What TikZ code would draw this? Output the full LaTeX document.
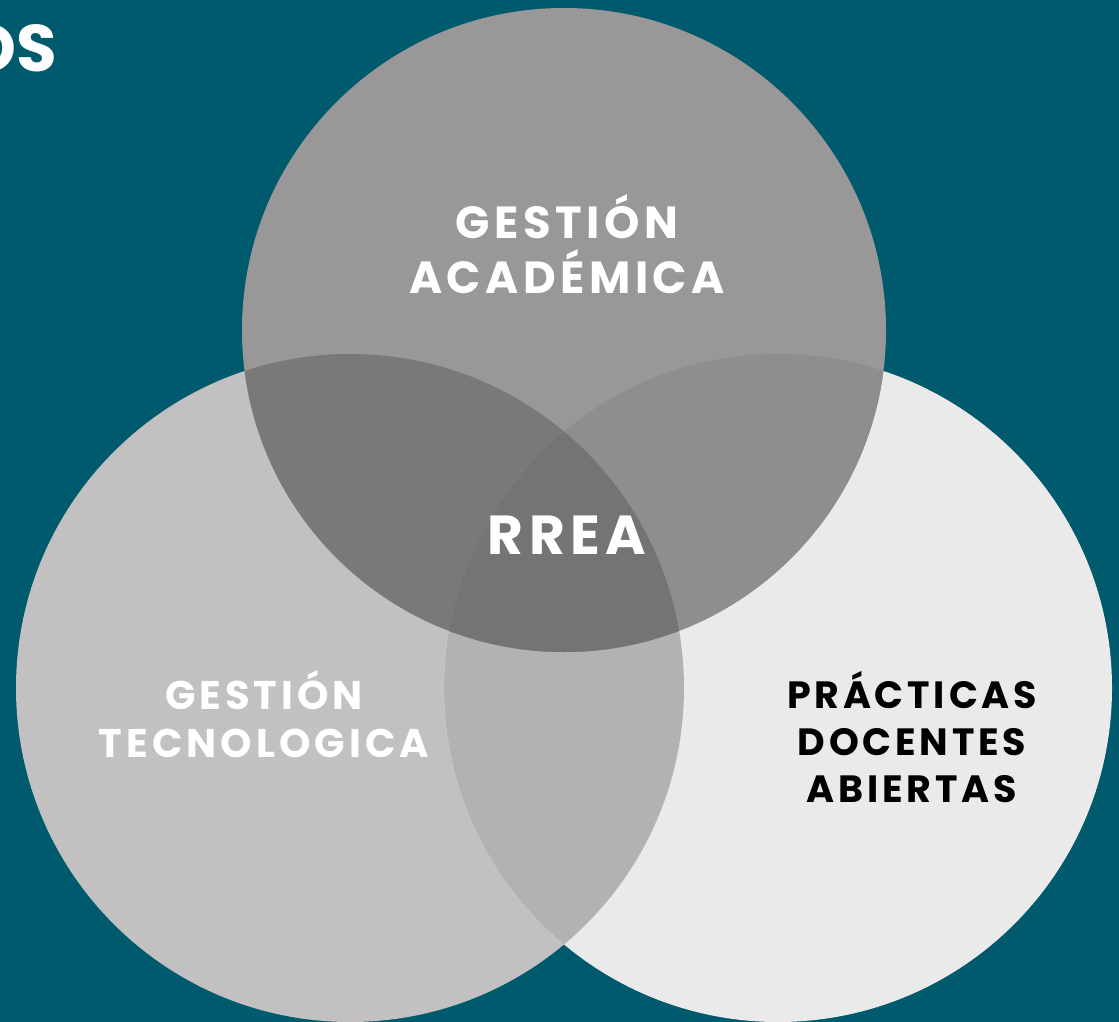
\documentclass[tikz,border=0pt]{standalone}
\usepackage{fontspec}
\setmainfont{Poppins}
\newfontfamily\lblfont[LetterSpace=10]{Poppins}
\begin{document}
\begin{tikzpicture}[x=1pt,y=-1pt,
  lbl/.style={font=\lblfont\bfseries, align=center, inner sep=0pt},
  white lbl/.style={lbl, text=white},
  black lbl/.style={lbl, text=black}]
\definecolor{bg}{HTML}{005A6E}
\definecolor{ctop}{HTML}{999797}
\definecolor{cleft}{HTML}{C2C0C1}
\definecolor{cright}{HTML}{EAEAEA}
\definecolor{ctl}{HTML}{7B7879}
\definecolor{ctr}{HTML}{8F8D8E}
\definecolor{clr}{HTML}{B3B1B2}
\definecolor{call}{HTML}{757373}
\useasboundingbox (0,0) rectangle (1119,1022);
\clip (0,0) rectangle (1119,1022);
\fill[bg] (0,0) rectangle (1119,1022);
% circles
\coordinate (T) at (564,330);
\coordinate (L) at (350,688);
\coordinate (R) at (778,688);
\fill[cleft] (L) circle (334);
\fill[cright] (R) circle (334);
\fill[ctop] (T) circle (322);
% intersections
\begin{scope}\clip (L) circle (334); \fill[clr] (R) circle (334);\end{scope}
\begin{scope}\clip (T) circle (322); \fill[ctl] (L) circle (334);\end{scope}
\begin{scope}\clip (T) circle (322); \fill[ctr] (R) circle (334);\end{scope}
\begin{scope}\clip (T) circle (322); \clip (L) circle (334); \fill[call] (R) circle (334);\end{scope}
% texts
\node[font=\bfseries\fontsize{66}{66}\selectfont, text=white, anchor=east, inner sep=0pt] (os) at (57,48) {OS};
\node[white lbl, font=\lblfont\bfseries\fontsize{45}{55}\selectfont] (acad) at (567,244) {GESTIÓN\\ACADÉMICA};
\node[white lbl, font=\lblfont\bfseries\fontsize{55}{55}\selectfont] (rrea) at (567,535) {RREA};
\node[white lbl, font=\lblfont\bfseries\fontsize{40}{48}\selectfont] (tec) at (264,714) {GESTIÓN\\TECNOLOGICA};
\node[black lbl, font=\lblfont\bfseries\fontsize{38}{47}\selectfont] (prac) at (912,737) {PRÁCTICAS\\DOCENTES\\ABIERTAS};
\end{tikzpicture}
\end{document}
